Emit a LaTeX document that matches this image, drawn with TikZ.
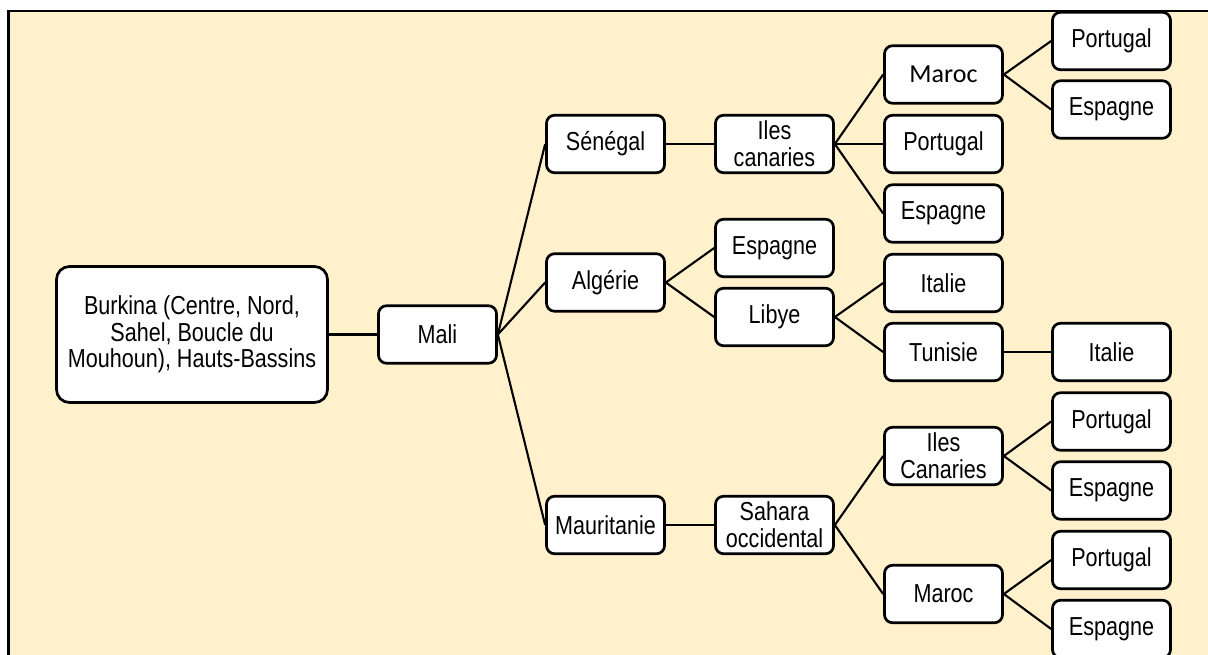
\documentclass[tikz,border=0pt]{standalone}
\usepackage{fontspec}
\setmainfont{Liberation Sans}[FakeStretch=0.83]
\newfontfamily\marocfont{Carlito}
\usepackage{tikz}

\definecolor{fond}{RGB}{255,241,204}

\tikzset{
  pays/.style={draw, fill=white, line width=2.7pt, rounded corners=8pt,
    minimum width=118pt, minimum height=57.5pt, inner sep=2pt, align=center,
    font=\fontsize{26}{26.7}\selectfont},
  depart/.style={pays, minimum width=271pt, minimum height=136pt, rounded corners=13pt},
  route/.style={line width=2.1pt}
}

\begin{document}
\begin{tikzpicture}[x=1pt,y=-1pt]
    \useasboundingbox (0,0) rectangle (1208,654);
    % fond jaune et cadre
    \fill[fond] (8.7,10.8) rectangle (1212,660);
    \draw[line width=1.5pt] (7.3,10.8) -- (1212,10.8);
    \draw[line width=2.7pt] (8.7,10) -- (8.7,660);

    % colonnes
    \node[depart] (burkina) at (192,334.5) {Burkina (Centre, Nord,\\Sahel, Boucle du\\Mouhoun), Hauts-Bassins};
    \node[pays] (mali) at (437.5,334.5) {Mali};

    \node[pays] (senegal) at (605.5,144) {Sénégal};
    \node[pays] (algerie) at (605.5,282.5) {Algérie};
    \node[pays] (mauritanie) at (605.5,525) {Mauritanie};

    \node[pays] (senIles) at (774.5,144) {Iles\\canaries};
    \node[pays] (algEsp) at (774.5,248) {Espagne};
    \node[pays] (libye) at (774.5,317) {Libye};
    \node[pays] (sahara) at (774.5,525) {Sahara\\occidental};

    \node[pays, font=\marocfont\fontsize{26}{27}\selectfont] (senMaroc) at (943.5,74.5) {Maroc};
    \node[pays] (senPort) at (943.5,144) {Portugal};
    \node[pays] (senEsp) at (943.5,213.5) {Espagne};
    \node[pays] (libItalie) at (943.5,283) {Italie};
    \node[pays] (tunisie) at (943.5,352) {Tunisie};
    \node[pays] (sahIles) at (943.5,456) {Iles\\Canaries};
    \node[pays] (sahMaroc) at (943.5,594) {Maroc};

    \node[pays] (marPort) at (1111.5,41) {Portugal};
    \node[pays] (marEsp) at (1111.5,109.5) {Espagne};
    \node[pays] (tunItalie) at (1111.5,352) {Italie};
    \node[pays] (ilesPort) at (1111.5,421.5) {Portugal};
    \node[pays] (ilesEsp) at (1111.5,490.5) {Espagne};
    \node[pays] (marocPort) at (1111.5,560) {Portugal};
    \node[pays] (marocEsp) at (1111.5,629) {Espagne};

    % liaisons
    \draw[route] (burkina.east) -- (mali.west);
    \foreach \b in {senegal,algerie,mauritanie}
        \draw[route] (mali.east) -- (\b.west);
    \draw[route] (senegal.east) -- (senIles.west);
    \foreach \b in {senMaroc,senPort,senEsp}
        \draw[route] (senIles.east) -- (\b.west);
    \foreach \b in {marPort,marEsp}
        \draw[route] (senMaroc.east) -- (\b.west);
    \foreach \b in {algEsp,libye}
        \draw[route] (algerie.east) -- (\b.west);
    \foreach \b in {libItalie,tunisie}
        \draw[route] (libye.east) -- (\b.west);
    \draw[route] (tunisie.east) -- (tunItalie.west);
    \draw[route] (mauritanie.east) -- (sahara.west);
    \foreach \b in {sahIles,sahMaroc}
        \draw[route] (sahara.east) -- (\b.west);
    \foreach \b in {ilesPort,ilesEsp}
        \draw[route] (sahIles.east) -- (\b.west);
    \foreach \b in {marocPort,marocEsp}
        \draw[route] (sahMaroc.east) -- (\b.west);
\end{tikzpicture}
\end{document}
